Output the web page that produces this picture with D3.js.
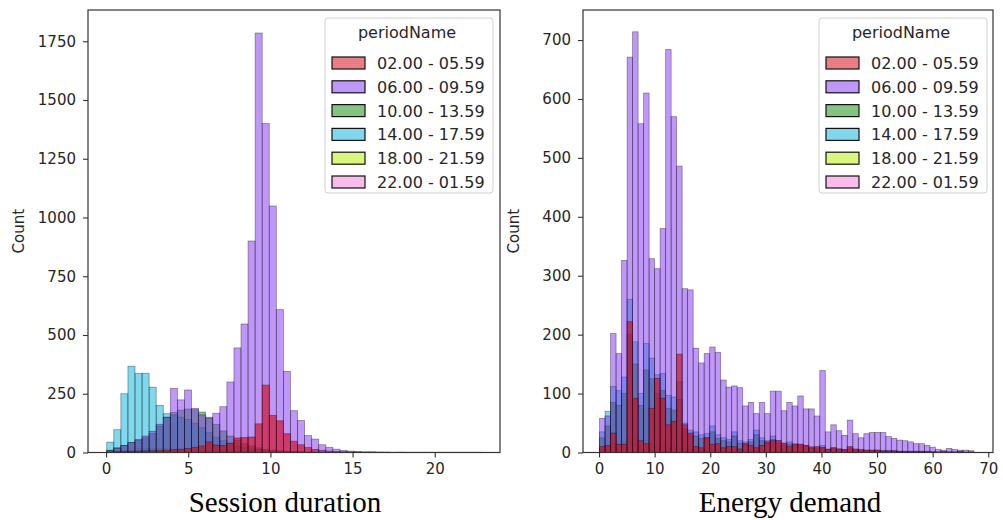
<!DOCTYPE html>
<html>
<head>
<meta charset="utf-8">
<title>Session duration and energy demand by period</title>
<style>
  body { margin: 0; background: #fff; }
  svg text { font-family: "DejaVu Sans", sans-serif; fill: #262626; }
  .caption { font-family: "Liberation Serif", "Times New Roman", serif; fill: #000; }
</style>
</head>
<body>
<svg id="svg" width="1003" height="520"></svg>
<script src="https://d3js.org/d3.v7.min.js"></script>
<script>
// hue levels, in legend order
const periods = ["02.00 - 05.59", "06.00 - 09.59", "10.00 - 13.59", "14.00 - 17.59", "18.00 - 21.59", "22.00 - 01.59"]
const palette = ["#d2000f", "#8030f4", "#078a07", "#00b2d8", "#b4f000", "#f27ad8"]
const barAlpha = [0.6, 0.5, 0.5, 0.5, 0.5, 0.5]

// session duration histogram: 53 bins, first edge 0.04, width 0.43
const durationStart = 0.04
const durationWidth = 0.43
const durationTicks = [0, 5, 10, 15, 20]
const durationCountTicks = [0, 250, 500, 750, 1000, 1250, 1500, 1750]
const duration0205 = [2, 3, 4, 5, 6, 7, 8, 9, 10, 12, 14, 17, 22, 28, 45, 32, 30, 40, 62, 64, 66, 122, 287, 158, 135, 80, 48, 33, 21, 13, 9, 6, 4, 3, 2, 2, 1, 1, 1, 0, 0, 1, 0, 0, 0, 0, 0, 0, 0, 0, 0, 0, 0]
const duration0609 = [8, 18, 30, 42, 55, 70, 90, 120, 150, 273, 224, 266, 188, 160, 146, 167, 195, 300, 445, 547, 900, 1785, 1400, 1049, 608, 345, 178, 136, 72, 57, 33, 22, 14, 9, 6, 4, 3, 3, 2, 2, 1, 1, 1, 1, 1, 1, 1, 1, 1, 1, 1, 1, 1]
const duration1013 = [10, 20, 30, 42, 52, 62, 80, 112, 150, 170, 180, 185, 182, 172, 150, 120, 92, 70, 52, 38, 28, 20, 14, 10, 7, 5, 3, 2, 1, 1, 0, 0, 0, 0, 0, 0, 0, 0, 0, 0, 0, 0, 0, 0, 0, 0, 0, 0, 0, 0, 0, 0, 0]
const duration1417 = [44, 97, 250, 367, 337, 337, 278, 200, 165, 160, 150, 140, 125, 105, 85, 65, 50, 38, 28, 20, 15, 11, 8, 6, 4, 3, 2, 2, 1, 1, 0, 0, 0, 0, 0, 0, 0, 0, 0, 0, 0, 0, 0, 0, 0, 0, 0, 0, 0, 0, 0, 0, 0]
const duration1821 = [3, 6, 10, 14, 16, 18, 18, 17, 16, 15, 14, 12, 10, 9, 8, 7, 6, 5, 4, 3, 3, 2, 2, 2, 1, 1, 1, 1, 1, 0, 0, 0, 0, 0, 0, 0, 0, 0, 0, 0, 0, 0, 0, 0, 0, 0, 0, 0, 0, 0, 0, 0, 0]
const duration2201 = [1, 2, 3, 4, 5, 6, 6, 6, 6, 6, 6, 5, 5, 5, 5, 5, 6, 7, 8, 9, 10, 12, 10, 8, 6, 4, 3, 2, 1, 1, 0, 0, 0, 0, 0, 0, 0, 0, 0, 0, 0, 0, 0, 0, 0, 0, 0, 0, 0, 0, 0, 0, 0]

// energy demand histogram: 68 bins, first edge 0.1, width 0.99
const energyStart = 0.1
const energyWidth = 0.99
const energyTicks = [0, 10, 20, 30, 40, 50, 60, 70]
const energyCountTicks = [0, 100, 200, 300, 400, 500, 600, 700]
const energy0205 = [10, 12, 33, 14, 14, 222, 92, 20, 15, 75, 126, 92, 47, 53, 167, 47, 33, 10, 8, 25, 14, 15, 8, 10, 10, 6, 15, 12, 8, 12, 18, 20, 20, 16, 10, 14, 14, 12, 8, 10, 8, 5, 8, 6, 5, 10, 6, 5, 4, 4, 4, 3, 3, 3, 2, 2, 2, 2, 2, 2, 1, 1, 2, 1, 1, 2, 1, 1]
const energy0609 = [58, 62, 202, 168, 326, 671, 714, 558, 610, 329, 312, 380, 684, 570, 486, 278, 276, 177, 152, 168, 179, 170, 123, 111, 113, 110, 79, 85, 66, 85, 66, 104, 104, 71, 85, 79, 96, 74, 74, 62, 139, 35, 47, 37, 29, 55, 32, 25, 32, 34, 34, 34, 27, 24, 21, 20, 18, 15, 15, 12, 9, 5, 4, 7, 5, 4, 4, 3]
const energy1013 = [25, 45, 85, 80, 100, 200, 150, 80, 140, 125, 100, 105, 75, 72, 90, 40, 30, 28, 24, 25, 35, 24, 20, 18, 28, 16, 14, 18, 30, 20, 16, 22, 16, 12, 14, 12, 11, 10, 8, 6, 9, 5, 6, 5, 4, 6, 4, 3, 3, 3, 3, 2, 2, 2, 2, 1, 1, 1, 1, 1, 1, 0, 0, 0, 0, 0, 0, 0]
const energy1417 = [35, 70, 112, 105, 128, 260, 188, 100, 185, 160, 132, 134, 97, 94, 120, 50, 38, 35, 30, 32, 45, 30, 25, 22, 35, 20, 18, 22, 38, 25, 20, 28, 20, 15, 18, 15, 14, 12, 10, 8, 12, 6, 8, 6, 5, 8, 5, 4, 4, 4, 4, 3, 3, 3, 2, 2, 2, 2, 2, 1, 1, 1, 1, 1, 1, 1, 0, 0]
const energy1821 = [6, 10, 16, 14, 18, 30, 24, 12, 20, 16, 14, 14, 10, 10, 12, 6, 5, 5, 4, 4, 5, 4, 3, 3, 4, 3, 2, 3, 4, 3, 2, 3, 2, 2, 2, 2, 2, 1, 1, 1, 1, 1, 1, 1, 1, 1, 1, 0, 0, 0, 0, 0, 0, 0, 0, 0, 0, 0, 0, 0, 0, 0, 0, 0, 0, 0, 0, 0]
const energy2201 = [3, 5, 8, 7, 9, 16, 12, 6, 10, 9, 8, 8, 6, 6, 7, 4, 3, 3, 3, 3, 3, 2, 2, 2, 2, 2, 1, 2, 2, 2, 1, 2, 1, 1, 1, 1, 1, 1, 1, 1, 1, 1, 0, 0, 0, 0, 0, 0, 0, 0, 0, 0, 0, 0, 0, 0, 0, 0, 0, 0, 0, 0, 0, 0, 0, 0, 0, 0]

const svg = d3.select("#svg")

function drawPanel(p) {
  const x = d3.scaleLinear().domain(p.xDomain).range([p.left, p.right])
  const y = d3.scaleLinear().domain(p.yDomain).range([p.bottom, p.top])
  const g = svg.append("g")

  // layered histograms: last hue level at the bottom, first on top
  for (let s = p.series.length - 1; s >= 0; s--) {
    const counts = p.series[s]
    g.append("g")
      .selectAll("rect")
      .data(counts.map((c, i) => ({ c, i })).filter(d => d.c > 0))
      .join("rect")
      .attr("x", d => x(p.binStart + d.i * p.binWidth))
      .attr("width", d => x(p.binStart + (d.i + 1) * p.binWidth) - x(p.binStart + d.i * p.binWidth))
      .attr("y", d => y(d.c))
      .attr("height", d => y(0) - y(d.c))
      .attr("fill", palette[s])
      .attr("fill-opacity", barAlpha[s])
      .attr("stroke", "#000")
      .attr("stroke-opacity", 0.4)
      .attr("stroke-width", 0.8)
  }

  // frame
  g.append("rect")
    .attr("x", p.left).attr("y", p.top)
    .attr("width", p.right - p.left).attr("height", p.bottom - p.top)
    .attr("fill", "none").attr("stroke", "#333").attr("stroke-width", 1.2)

  const xAxis = g.append("g")
    .attr("transform", `translate(0,${p.bottom})`)
    .call(d3.axisBottom(x).tickValues(p.xTicks).tickFormat(d3.format("d")).tickSize(5).tickPadding(6))
  const yAxis = g.append("g")
    .attr("transform", `translate(${p.left},0)`)
    .call(d3.axisLeft(y).tickValues(p.yTicks).tickFormat(d3.format("d")).tickSize(5).tickPadding(7))
  for (const ax of [xAxis, yAxis]) {
    ax.select(".domain").remove()
    ax.selectAll(".tick line").attr("stroke", "#333").attr("stroke-width", 1.1)
    ax.selectAll(".tick text").attr("font-size", 15).attr("fill", "#262626")
      .attr("font-family", "DejaVu Sans")
  }

  g.append("text")
    .attr("transform", `translate(${p.left - 64},${(p.top + p.bottom) / 2}) rotate(-90)`)
    .attr("text-anchor", "middle")
    .attr("font-size", 15)
    .text("Count")

  // legend
  const lg = g.append("g").attr("transform", `translate(${p.legendX},18)`)
  lg.append("rect")
    .attr("width", 168).attr("height", 175).attr("rx", 3)
    .attr("fill", "#fff").attr("fill-opacity", 0.85)
    .attr("stroke", "#d0d0d0")
  lg.append("text")
    .attr("x", 82).attr("y", 20)
    .attr("text-anchor", "middle").attr("font-size", 16)
    .text("periodName")
  const items = lg.selectAll(".item")
    .data(periods)
    .join("g")
    .attr("class", "item")
    .attr("transform", (d, i) => `translate(7,${39 + i * 23.8})`)
  items.append("rect")
    .attr("width", 33).attr("height", 12)
    .attr("fill", (d, i) => palette[i]).attr("fill-opacity", 0.5)
    .attr("stroke", "#111").attr("stroke-width", 1.2)
  items.append("text")
    .attr("x", 45).attr("y", 12)
    .attr("font-size", 16)
    .text(d => d)

  svg.append("text")
    .attr("class", "caption")
    .attr("x", p.captionX).attr("y", 512)
    .attr("text-anchor", "middle")
    .attr("font-size", 29)
    .text(p.caption)
}

drawPanel({
  left: 88, right: 500, top: 10, bottom: 452.5,
  xDomain: [-1.1, 23.97], yDomain: [0, 1883],
  xTicks: durationTicks, yTicks: durationCountTicks,
  binStart: durationStart, binWidth: durationWidth,
  series: [duration0205, duration0609, duration1013, duration1417, duration1821, duration2201],
  legendX: 325, captionX: 285, caption: "Session duration"
})

drawPanel({
  left: 583, right: 993, top: 10, bottom: 452.5,
  xDomain: [-2.88, 70.85], yDomain: [0, 751],
  xTicks: energyTicks, yTicks: energyCountTicks,
  binStart: energyStart, binWidth: energyWidth,
  series: [energy0205, energy0609, energy1013, energy1417, energy1821, energy2201],
  legendX: 819, captionX: 790, caption: "Energy demand"
})
</script>
</body>
</html>
